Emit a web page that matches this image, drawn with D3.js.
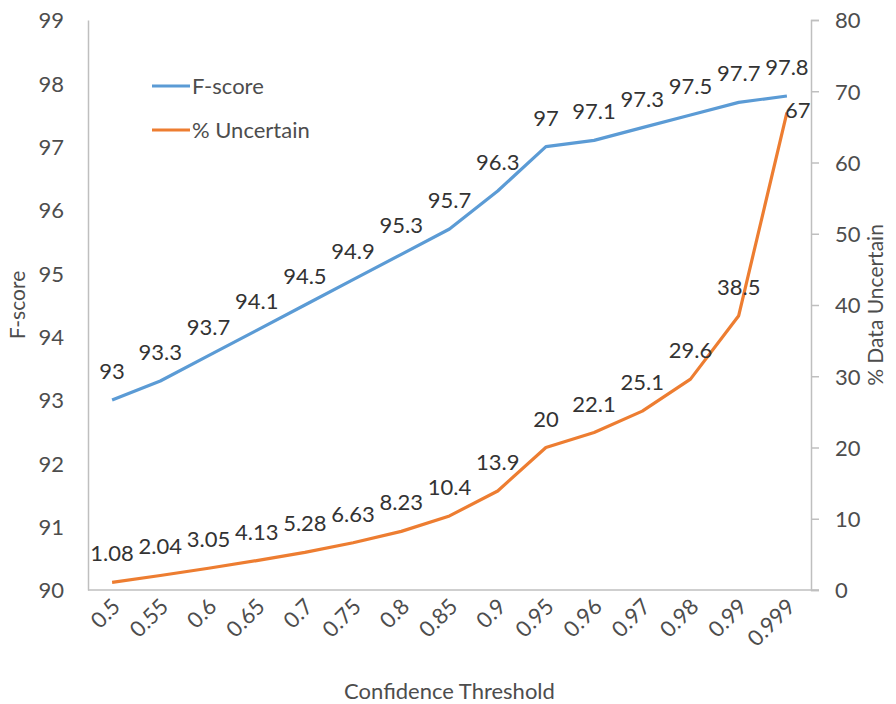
<!DOCTYPE html>
<html>
<head>
<meta charset="utf-8">
<script src="https://cdn.jsdelivr.net/npm/d3@7"></script>
<style>
  body { margin: 0; background: #fff; }
  text { font-family: Lato, "Open Sans", sans-serif; }
</style>
</head>
<body>
<div id="chart"></div>
<script>
// chart values
let thresholds = ["0.5", "0.55", "0.6", "0.65", "0.7", "0.75", "0.8", "0.85", "0.9", "0.95", "0.96", "0.97", "0.98", "0.99", "0.999"];
let fScore = [93, 93.3, 93.7, 94.1, 94.5, 94.9, 95.3, 95.7, 96.3, 97, 97.1, 97.3, 97.5, 97.7, 97.8];
let uncertain = [1.08, 2.04, 3.05, 4.13, 5.28, 6.63, 8.23, 10.4, 13.9, 20, 22.1, 25.1, 29.6, 38.5, 67];
let leftTicks = [90, 91, 92, 93, 94, 95, 96, 97, 98, 99];
let rightTicks = [0, 10, 20, 30, 40, 50, 60, 70, 80];

let width = 896, height = 704;
let margin = { top: 20, right: 85, bottom: 114, left: 88 };
let blue = "#5B9BD5", orange = "#ED7D31";
let axisColor = "#BFBFBF", tickText = "#4d4d4d", labelText = "#333333";

let svg = d3.select("#chart")
  .append("svg")
  .attr("width", width)
  .attr("height", height);

let x = d3.scalePoint()
  .domain(thresholds)
  .range([margin.left, width - margin.right])
  .padding(0.5);

let yLeft = d3.scaleLinear()
  .domain([90, 99])
  .range([height - margin.bottom, margin.top]);

let yRight = d3.scaleLinear()
  .domain([0, 80])
  .range([height - margin.bottom, margin.top]);

let bottom = height - margin.bottom;
let rightX = width - margin.right;

// left axis (line only, no ticks)
let gl = svg.append("g")
  .attr("transform", `translate(${margin.left},0)`)
  .call(d3.axisLeft(yLeft).tickValues(leftTicks).tickSize(0).tickPadding(24));
gl.select(".domain").attr("stroke", axisColor).attr("stroke-width", 1.5);
gl.selectAll("text").attr("fill", tickText).style("font-size", "22px").attr("dy", "0.36em");

// right axis with outward ticks
let gr = svg.append("g")
  .attr("transform", `translate(${rightX},0)`)
  .call(d3.axisRight(yRight).tickValues(rightTicks).tickSizeInner(8).tickSizeOuter(8).tickPadding(16));
gr.select(".domain").attr("stroke", axisColor).attr("stroke-width", 1.5);
gr.selectAll(".tick line").attr("stroke", axisColor).attr("stroke-width", 1.5);
gr.selectAll("text").attr("fill", tickText).style("font-size", "22px").attr("dy", "0.36em");

// bottom axis
let gb = svg.append("g")
  .attr("transform", `translate(0,${bottom})`)
  .call(d3.axisBottom(x).tickSize(0).tickPadding(0));
gb.select(".domain")
  .attr("d", `M${margin.left},0H${rightX + 8}`)
  .attr("stroke", axisColor).attr("stroke-width", 1.5);
gb.selectAll("text")
  .attr("fill", tickText)
  .style("font-size", "22px")
  .attr("text-anchor", "end")
  .attr("dy", null)
  .attr("transform", "translate(9,18) rotate(-45)");

// lines
let lineLeft = d3.line().x((d, i) => x(thresholds[i])).y(d => yLeft(d));
let lineRight = d3.line().x((d, i) => x(thresholds[i])).y(d => yRight(d));

svg.append("path")
  .datum(fScore)
  .attr("d", lineLeft)
  .attr("fill", "none")
  .attr("stroke", blue)
  .attr("stroke-width", 3.2)
  .attr("stroke-linejoin", "round");

svg.append("path")
  .datum(uncertain)
  .attr("d", lineRight)
  .attr("fill", "none")
  .attr("stroke", orange)
  .attr("stroke-width", 3.2)
  .attr("stroke-linejoin", "round");

// data labels
svg.append("g")
  .selectAll("text")
  .data(fScore)
  .join("text")
  .attr("x", (d, i) => x(thresholds[i]))
  .attr("y", d => yLeft(d) - 21)
  .attr("text-anchor", "middle")
  .attr("fill", labelText)
  .style("font-size", "22px")
  .text(d => d);

let last = uncertain.length - 1;
svg.append("g")
  .selectAll("text")
  .data(uncertain)
  .join("text")
  .attr("x", (d, i) => x(thresholds[i]) - (i === last ? 2 : 0))
  .attr("y", (d, i) => i === last ? yRight(d) + 5 : yRight(d) - 21)
  .attr("text-anchor", (d, i) => i === last ? "start" : "middle")
  .attr("fill", labelText)
  .style("font-size", "22px")
  .text(d => d);

// axis titles
svg.append("text")
  .attr("transform", `translate(25,${(margin.top + bottom) / 2}) rotate(-90)`)
  .attr("text-anchor", "middle")
  .attr("fill", tickText)
  .style("font-size", "21px")
  .text("F-score");

svg.append("text")
  .attr("transform", `translate(883,${(margin.top + bottom) / 2}) rotate(-90)`)
  .attr("text-anchor", "middle")
  .attr("fill", tickText)
  .style("font-size", "21px")
  .text("% Data Uncertain");

svg.append("text")
  .attr("x", (margin.left + rightX) / 2)
  .attr("y", 699)
  .attr("text-anchor", "middle")
  .attr("fill", tickText)
  .style("font-size", "22px")
  .text("Confidence Threshold");

// legend
let legend = [
  { name: "F-score", color: blue },
  { name: "% Uncertain", color: orange }
];
let lg = svg.append("g")
  .selectAll("g")
  .data(legend)
  .join("g")
  .attr("transform", (d, i) => `translate(152,${86 + i * 44})`);
lg.append("line")
  .attr("x1", 0).attr("x2", 38)
  .attr("stroke", d => d.color)
  .attr("stroke-width", 3.2);
lg.append("text")
  .attr("x", 40)
  .attr("y", 8)
  .attr("fill", tickText)
  .style("font-size", "22px")
  .text(d => d.name);
</script>
</body>
</html>
